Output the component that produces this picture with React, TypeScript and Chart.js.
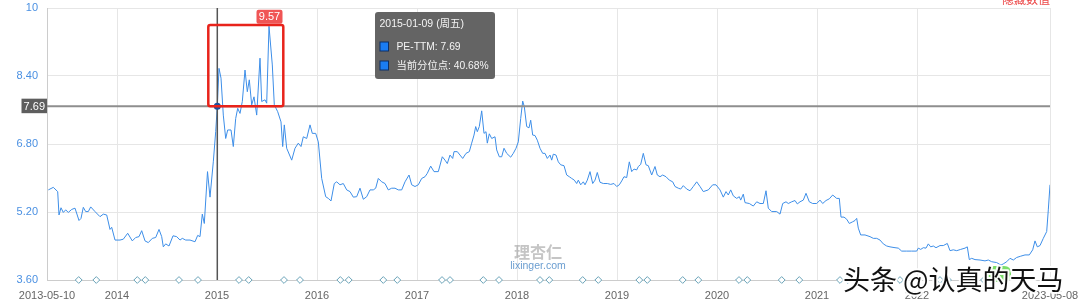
import React, { useEffect, useRef } from "react";
import { Chart, registerables } from "chart.js";

Chart.register(...registerables);

// ---- axis definitions ----
const X_MIN = 2013.3; // 2013-05-10
const X_MAX = 2023.33; // 2023-05-08
const xEdgeLabels = ["2013-05-10", "2023-05-08"];
const yearTicks = [2014, 2015, 2016, 2017, 2018, 2019, 2020, 2021, 2022];
const yTicks = [3.6, 5.2, 6.8, 8.4, 10];

// ---- PE-TTM series (x in decimal years) ----
const peYears = [
  2013.313, 2013.363, 2013.407, 2013.42, 2013.44, 2013.463, 2013.487, 2013.513, 2013.547, 2013.58,
  2013.62, 2013.64, 2013.663, 2013.687, 2013.713, 2013.737, 2013.78, 2013.83, 2013.863, 2013.897,
  2013.93, 2013.947, 2013.98, 2014.03, 2014.063, 2014.107, 2014.153, 2014.187, 2014.22, 2014.247,
  2014.28, 2014.313, 2014.353, 2014.387, 2014.42, 2014.447, 2014.463, 2014.487, 2014.52, 2014.56,
  2014.597, 2014.63, 2014.653, 2014.687, 2014.73, 2014.78, 2014.807, 2014.83, 2014.853, 2014.873,
  2014.905, 2014.93, 2014.963, 2014.987, 2015.003, 2015.02, 2015.04, 2015.063, 2015.087, 2015.107,
  2015.14, 2015.163, 2015.187, 2015.207, 2015.23, 2015.253, 2015.28, 2015.303, 2015.323, 2015.347,
  2015.37, 2015.397, 2015.43, 2015.447, 2015.48, 2015.497, 2015.52, 2015.553, 2015.573, 2015.607,
  2015.64, 2015.657, 2015.673, 2015.697, 2015.747, 2015.78, 2015.813, 2015.84, 2015.863, 2015.897,
  2015.93, 2015.953, 2015.987, 2016.013, 2016.047, 2016.087, 2016.113, 2016.14, 2016.173, 2016.197,
  2016.23, 2016.263, 2016.297, 2016.33, 2016.363, 2016.397, 2016.43, 2016.463, 2016.497, 2016.53,
  2016.563, 2016.587, 2016.613, 2016.647, 2016.68, 2016.713, 2016.747, 2016.78, 2016.813, 2016.847,
  2016.88, 2016.92, 2016.947, 2016.98, 2017.013, 2017.047, 2017.08, 2017.103, 2017.137, 2017.17,
  2017.213, 2017.253, 2017.28, 2017.303, 2017.33, 2017.357, 2017.37, 2017.403, 2017.43, 2017.457,
  2017.49, 2017.523, 2017.547, 2017.57, 2017.587, 2017.603, 2017.623, 2017.647, 2017.67, 2017.69,
  2017.703, 2017.723, 2017.747, 2017.78, 2017.797, 2017.823, 2017.847, 2017.87, 2017.897, 2017.937,
  2017.963, 2017.99, 2018.013, 2018.037, 2018.057, 2018.073, 2018.097, 2018.12, 2018.137, 2018.157,
  2018.18, 2018.203, 2018.23, 2018.257, 2018.28, 2018.303, 2018.33, 2018.347, 2018.363, 2018.39,
  2018.413, 2018.437, 2018.47, 2018.497, 2018.523, 2018.547, 2018.573, 2018.597, 2018.613, 2018.637,
  2018.663, 2018.68, 2018.703, 2018.73, 2018.757, 2018.78, 2018.803, 2018.83, 2018.863, 2018.903,
  2018.937, 2018.97, 2018.997, 2019.023, 2019.047, 2019.07, 2019.097, 2019.123, 2019.147, 2019.17,
  2019.197, 2019.213, 2019.237, 2019.263, 2019.29, 2019.313, 2019.347, 2019.38, 2019.403, 2019.43,
  2019.457, 2019.49, 2019.523, 2019.557, 2019.58, 2019.613, 2019.637, 2019.663, 2019.697, 2019.73,
  2019.763, 2019.797, 2019.83, 2019.863, 2019.913, 2019.957, 2019.99, 2020.03, 2020.063, 2020.09,
  2020.113, 2020.137, 2020.163, 2020.197, 2020.223, 2020.237, 2020.263, 2020.28, 2020.323, 2020.363,
  2020.397, 2020.43, 2020.463, 2020.49, 2020.513, 2020.547, 2020.597, 2020.63, 2020.657, 2020.69,
  2020.713, 2020.747, 2020.78, 2020.803, 2020.83, 2020.863, 2020.89, 2020.923, 2020.957, 2020.997,
  2021.03, 2021.057, 2021.09, 2021.123, 2021.157, 2021.197, 2021.223, 2021.24, 2021.27, 2021.297,
  2021.323, 2021.357, 2021.38, 2021.397, 2021.413, 2021.437, 2021.48, 2021.53, 2021.563, 2021.597,
  2021.63, 2021.663, 2021.697, 2021.73, 2021.78, 2021.813, 2021.847, 2021.897, 2021.947, 2021.997,
  2022.013, 2022.037, 2022.063, 2022.09, 2022.113, 2022.137, 2022.163, 2022.19, 2022.23, 2022.263,
  2022.303, 2022.33, 2022.363, 2022.397, 2022.437, 2022.48, 2022.503, 2022.523, 2022.547, 2022.58,
  2022.63, 2022.68, 2022.713, 2022.747, 2022.797, 2022.84, 2022.863, 2022.897, 2022.93, 2022.963,
  2022.997, 2023.037, 2023.08, 2023.123, 2023.157, 2023.18, 2023.203, 2023.23, 2023.263, 2023.297,
  2023.313, 2023.33,
];
const peValues = [
  5.72, 5.78, 5.68, 5.13, 5.3, 5.19, 5.25, 5.19, 5.26, 5.29,
  5.0, 5.05, 5.31, 5.21, 5.21, 5.32, 5.21, 5.09, 5.15, 5.13,
  4.79, 4.84, 4.54, 4.54, 4.56, 4.7, 4.52, 4.6, 4.62, 4.76,
  4.52, 4.48, 4.58, 4.6, 4.79, 4.62, 4.38, 4.45, 4.4, 4.64,
  4.62, 4.54, 4.58, 4.54, 4.54, 4.5, 4.65, 4.62, 5.15, 4.93,
  6.15, 5.55, 6.38, 7.09, 7.69, 8.58, 8.35, 7.48, 6.93, 7.13,
  7.13, 6.74, 7.4, 7.64, 7.52, 7.8, 8.54, 8.03, 8.31, 7.72,
  7.91, 7.48, 8.82, 7.8, 7.84, 7.76, 9.57, 8.66, 7.72, 7.56,
  7.32, 6.74, 7.25, 6.7, 6.42, 6.7, 6.82, 6.74, 6.97, 6.93,
  7.25, 7.05, 7.05, 6.85, 5.99, 5.56, 5.52, 5.46, 5.87, 5.91,
  5.84, 5.87, 5.72, 5.68, 5.55, 5.56, 5.76, 5.5, 5.56, 5.72,
  5.72, 5.76, 5.99, 5.91, 5.87, 5.72, 5.76, 5.76, 5.72, 5.72,
  5.91, 6.07, 5.84, 5.8, 5.84, 5.99, 6.03, 6.11, 6.28, 6.15,
  6.15, 6.5, 6.42, 6.34, 6.54, 6.46, 6.62, 6.62, 6.54, 6.46,
  6.58, 6.62, 6.82, 7.01, 7.21, 7.09, 7.21, 7.58, 7.05, 7.09,
  6.82, 7.04, 6.93, 6.97, 6.66, 6.5, 6.5, 6.7, 6.58, 6.49,
  6.58, 6.7, 6.85, 7.4, 7.81, 7.68, 7.21, 7.18, 7.36, 7.01,
  7.0, 6.89, 6.7, 6.58, 6.58, 6.46, 6.54, 6.42, 6.56, 6.54,
  6.38, 6.31, 6.29, 6.07, 6.03, 5.99, 5.95, 5.87, 5.95, 5.84,
  5.91, 5.84, 5.95, 6.15, 5.87, 5.95, 6.13, 5.9, 5.87, 5.87,
  5.85, 5.87, 5.8, 5.84, 5.93, 6.03, 6.01, 6.38, 6.15, 6.21,
  6.19, 6.27, 6.32, 6.58, 6.31, 6.29, 6.07, 6.27, 6.07, 6.03,
  6.07, 6.03, 5.95, 5.91, 5.8, 5.76, 5.74, 5.82, 5.74, 5.7,
  5.8, 5.91, 5.8, 5.68, 5.72, 5.84, 5.84, 5.72, 5.55, 5.68,
  5.6, 5.72, 5.58, 5.52, 5.56, 5.48, 5.62, 5.42, 5.4, 5.34,
  5.44, 5.4, 5.4, 5.7, 5.29, 5.21, 5.21, 5.15, 5.4, 5.44,
  5.4, 5.44, 5.47, 5.39, 5.44, 5.48, 5.64, 5.44, 5.4, 5.4,
  5.48, 5.4, 5.47, 5.51, 5.6, 5.52, 5.52, 5.08, 5.08, 5.03,
  4.93, 4.97, 5.0, 5.05, 4.82, 4.66, 4.66, 4.62, 4.58, 4.58,
  4.54, 4.45, 4.4, 4.38, 4.36, 4.35, 4.28, 4.28, 4.28, 4.28,
  4.35, 4.32, 4.36, 4.35, 4.45, 4.38, 4.4, 4.36, 4.41, 4.41,
  4.46, 4.29, 4.31, 4.29, 4.32, 4.35, 4.38, 4.08, 4.11, 4.08,
  4.07, 4.05, 4.07, 4.03, 4.01, 3.95, 3.98, 4.03, 4.11, 4.07,
  4.13, 4.16, 4.19, 4.19, 4.31, 4.52, 4.38, 4.41, 4.58, 4.74,
  5.25, 5.84,
];

// ---- event markers along the bottom axis ----
const markerYears = [
  2013.617, 2013.793, 2014.203, 2014.283, 2014.62, 2014.81, 2015.22, 2015.317, 2015.67, 2015.83,
  2016.233, 2016.317, 2016.663, 2016.803, 2017.25, 2017.33, 2017.663, 2017.82, 2018.23, 2018.323,
  2018.657, 2018.813, 2019.223, 2019.303, 2019.657, 2019.813, 2020.22, 2020.303, 2020.647, 2020.823,
  2021.23, 2021.31, 2021.67, 2021.83, 2022.23, 2022.31, 2022.67, 2022.83,
];

// ---- hovered point / annotations ----
const hoverYear = 2015.003;
const hoverValue = 7.69;
const hoverTitle = "2015-01-09 (周五)";
const hoverLines = ["PE-TTM: 7.69", "当前分位点: 40.68%"];
const highlightX = [2014.913, 2015.663];
const highlightY = [7.69, 9.6];

const LATIN = '"Liberation Sans", Arial, "Noto Sans CJK SC", sans-serif';
const CJK = '"Noto Sans CJK SC", "Liberation Sans", sans-serif';

function roundRect(ctx: CanvasRenderingContext2D, x: number, y: number, w: number, h: number, r: number) {
  ctx.beginPath();
  ctx.moveTo(x + r, y);
  ctx.lineTo(x + w - r, y);
  ctx.quadraticCurveTo(x + w, y, x + w, y + r);
  ctx.lineTo(x + w, y + h - r);
  ctx.quadraticCurveTo(x + w, y + h, x + w - r, y + h);
  ctx.lineTo(x + r, y + h);
  ctx.quadraticCurveTo(x, y + h, x, y + h - r);
  ctx.lineTo(x, y + r);
  ctx.quadraticCurveTo(x, y, x + r, y);
  ctx.closePath();
}

const overlayPlugin = {
  id: "overlay",
  afterDatasetsDraw(chart: any) {
    const { ctx, chartArea: a, scales } = chart;
    const xs = scales.x;
    const ys = scales.y;
    const px = xs.getPixelForValue(hoverYear);
    const py = ys.getPixelForValue(hoverValue);
    ctx.save();

    // horizontal reference line
    ctx.strokeStyle = "#8e8e8e";
    ctx.lineWidth = 2;
    ctx.beginPath();
    ctx.moveTo(a.left, py);
    ctx.lineTo(a.right, py);
    ctx.stroke();

    // vertical crosshair
    ctx.strokeStyle = "#555555";
    ctx.lineWidth = 1.5;
    ctx.beginPath();
    ctx.moveTo(px, a.top);
    ctx.lineTo(px, a.bottom);
    ctx.stroke();

    // y label box
    ctx.fillStyle = "#5e5e5e";
    ctx.fillRect(a.left - 25.5, py - 7.5, 25.5, 14.5);
    ctx.fillStyle = "#ffffff";
    ctx.font = `11px ${LATIN}`;
    ctx.textAlign = "center";
    ctx.textBaseline = "middle";
    ctx.fillText(hoverValue.toFixed(2), a.left - 12.7, py + 0.5);

    // hovered point
    ctx.fillStyle = "#1c4f9c";
    ctx.beginPath();
    ctx.arc(px, py, 3.5, 0, Math.PI * 2);
    ctx.fill();

    // red highlight box
    const rx1 = xs.getPixelForValue(highlightX[0]);
    const rx2 = xs.getPixelForValue(highlightX[1]);
    const ry1 = ys.getPixelForValue(highlightY[1]);
    const ry2 = ys.getPixelForValue(highlightY[0]);
    ctx.strokeStyle = "#e8231b";
    ctx.lineWidth = 2.5;
    roundRect(ctx, rx1, ry1, rx2 - rx1, ry2 - ry1, 2);
    ctx.stroke();

    // max label
    let mi = 0;
    for (let i = 1; i < peValues.length; i++) if (peValues[i] > peValues[mi]) mi = i;
    const mx = xs.getPixelForValue(peYears[mi]);
    const my = ys.getPixelForValue(peValues[mi]);
    ctx.fillStyle = "#f05555";
    roundRect(ctx, mx - 12.5, my - 16.5, 26, 14, 2);
    ctx.fill();
    ctx.fillStyle = "#ffffff";
    ctx.font = `11px ${LATIN}`;
    ctx.fillText(peValues[mi].toFixed(2), mx + 0.5, my - 9);

    ctx.restore();
  },
  afterDraw(chart: any) {
    const { ctx, chartArea: a } = chart;
    ctx.save();

    // lixinger watermark
    ctx.textAlign = "center";
    ctx.textBaseline = "middle";
    ctx.font = `bold 16px ${CJK}`;
    ctx.fillStyle = "rgba(150,150,150,0.55)";
    ctx.fillText("理杏仁", 538, 252);
    ctx.font = `10.5px ${LATIN}`;
    ctx.fillStyle = "rgba(80,140,200,0.85)";
    ctx.fillText("lixinger.com", 538, 266.5);

    // tooltip
    const tx = 375;
    const ty = 12;
    ctx.fillStyle = "rgba(95,95,95,0.97)";
    roundRect(ctx, tx, ty, 120, 67, 3);
    ctx.fill();
    ctx.textAlign = "left";
    ctx.fillStyle = "#f4f4f4";
    ctx.font = `10.5px ${LATIN}`;
    ctx.fillText(hoverTitle, tx + 4.5, ty + 12.5);
    hoverLines.forEach((line, i) => {
      const ly = ty + 34.5 + i * 19;
      ctx.fillStyle = "#1a7cf2";
      ctx.fillRect(tx + 5, ly - 4.5, 8.5, 9);
      ctx.strokeStyle = "#0d2f66";
      ctx.lineWidth = 1;
      ctx.strokeRect(tx + 5, ly - 4.5, 8.5, 9);
      ctx.fillStyle = "#f4f4f4";
      ctx.font = `10.3px ${LATIN}`;
      ctx.fillText(line, tx + 21.5, ly + 0.5, 95);
    });

    // hidden-value link (cut at top)
    ctx.textAlign = "right";
    ctx.textBaseline = "alphabetic";
    ctx.fillStyle = "#ec4545";
    ctx.font = `12px ${CJK}`;
    ctx.fillText("隐藏数值", a.right, 4);

    // toutiao watermark
    ctx.fillStyle = "rgba(110,220,90,0.9)";
    roundRect(ctx, 987, 266, 24, 16, 7);
    ctx.fill();
    ctx.textAlign = "left";
    ctx.textBaseline = "middle";
    ctx.font = `27px ${CJK}`;
    ctx.lineJoin = "round";
    ctx.strokeStyle = "rgba(255,255,255,0.95)";
    ctx.lineWidth = 4;
    ctx.strokeText("头条 @认真的天马", 843, 280, 226);
    ctx.fillStyle = "#111111";
    ctx.fillText("头条 @认真的天马", 843, 280, 226);

    ctx.restore();
  },
};

export default function App() {
  const canvasRef = useRef<HTMLCanvasElement | null>(null);

  useEffect(() => {
    if (!canvasRef.current) return;
    const peData = peYears.map((x, i) => ({ x, y: peValues[i] }));
    const markerData = markerYears.map((x) => ({ x, y: yTicks[0] }));
    const chart = new Chart(canvasRef.current, {
      type: "line",
      data: {
        datasets: [
          {
            label: "PE-TTM",
            data: peData,
            borderColor: "#3d8ee8",
            borderWidth: 1,
            pointRadius: 0,
            tension: 0,
            fill: false,
          },
          {
            label: "markers",
            data: markerData,
            showLine: false,
            pointStyle: "rectRot",
            pointRadius: 3.4,
            pointBorderWidth: 1,
            pointBorderColor: "#6aa3b8",
            pointBackgroundColor: "#ffffff",
            clip: false,
          } as any,
        ],
      },
      options: {
        responsive: false,
        animation: false,
        events: [],
        layout: { padding: { top: 8, right: 30, left: 0, bottom: 0 } },
        plugins: {
          legend: { display: false },
          tooltip: { enabled: false },
        },
        scales: {
          x: {
            type: "linear",
            min: X_MIN,
            max: X_MAX,
            afterBuildTicks: (s: any) => {
              s.ticks = [X_MIN, ...yearTicks, X_MAX].map((v) => ({ value: v }));
            },
            afterFit: (s: any) => {
              s.height = 25;
              s.paddingLeft = 0;
              s.paddingRight = 0;
            },
            ticks: {
              autoSkip: false,
              maxRotation: 0,
              padding: 9,
              color: "#666666",
              font: { size: 11, family: LATIN },
              callback: (v: any) => {
                if (Math.abs(v - X_MIN) < 1e-6) return xEdgeLabels[0];
                if (Math.abs(v - X_MAX) < 1e-6) return xEdgeLabels[1];
                return String(Math.round(v));
              },
            },
            grid: { color: "#e6e6e6", drawTicks: false, lineWidth: 1 },
            border: { color: "#cccccc", width: 1 },
          },
          y: {
            type: "linear",
            min: yTicks[0],
            max: yTicks[yTicks.length - 1],
            afterBuildTicks: (s: any) => {
              s.ticks = yTicks.map((v) => ({ value: v }));
            },
            afterFit: (s: any) => {
              s.width = 47;
              s.paddingTop = 0;
              s.paddingBottom = 0;
            },
            ticks: {
              padding: 9,
              color: "#4a90e2",
              font: { size: 11, family: LATIN },
              callback: (v: any) => (Math.abs(v - 10) < 1e-6 ? "10" : Number(v).toFixed(2)),
            },
            grid: { color: "#e6e6e6", drawTicks: false, lineWidth: 1 },
            border: { color: "#cccccc", width: 1 },
          },
        },
      },
      plugins: [overlayPlugin],
    });
    return () => chart.destroy();
  }, []);

  return (
    <div style={{ position: "fixed", left: 0, top: 0, width: 1080, height: 305, background: "#fff" }}>
      <canvas ref={canvasRef} width={1080} height={305} style={{ display: "block" }} />
    </div>
  );
}
